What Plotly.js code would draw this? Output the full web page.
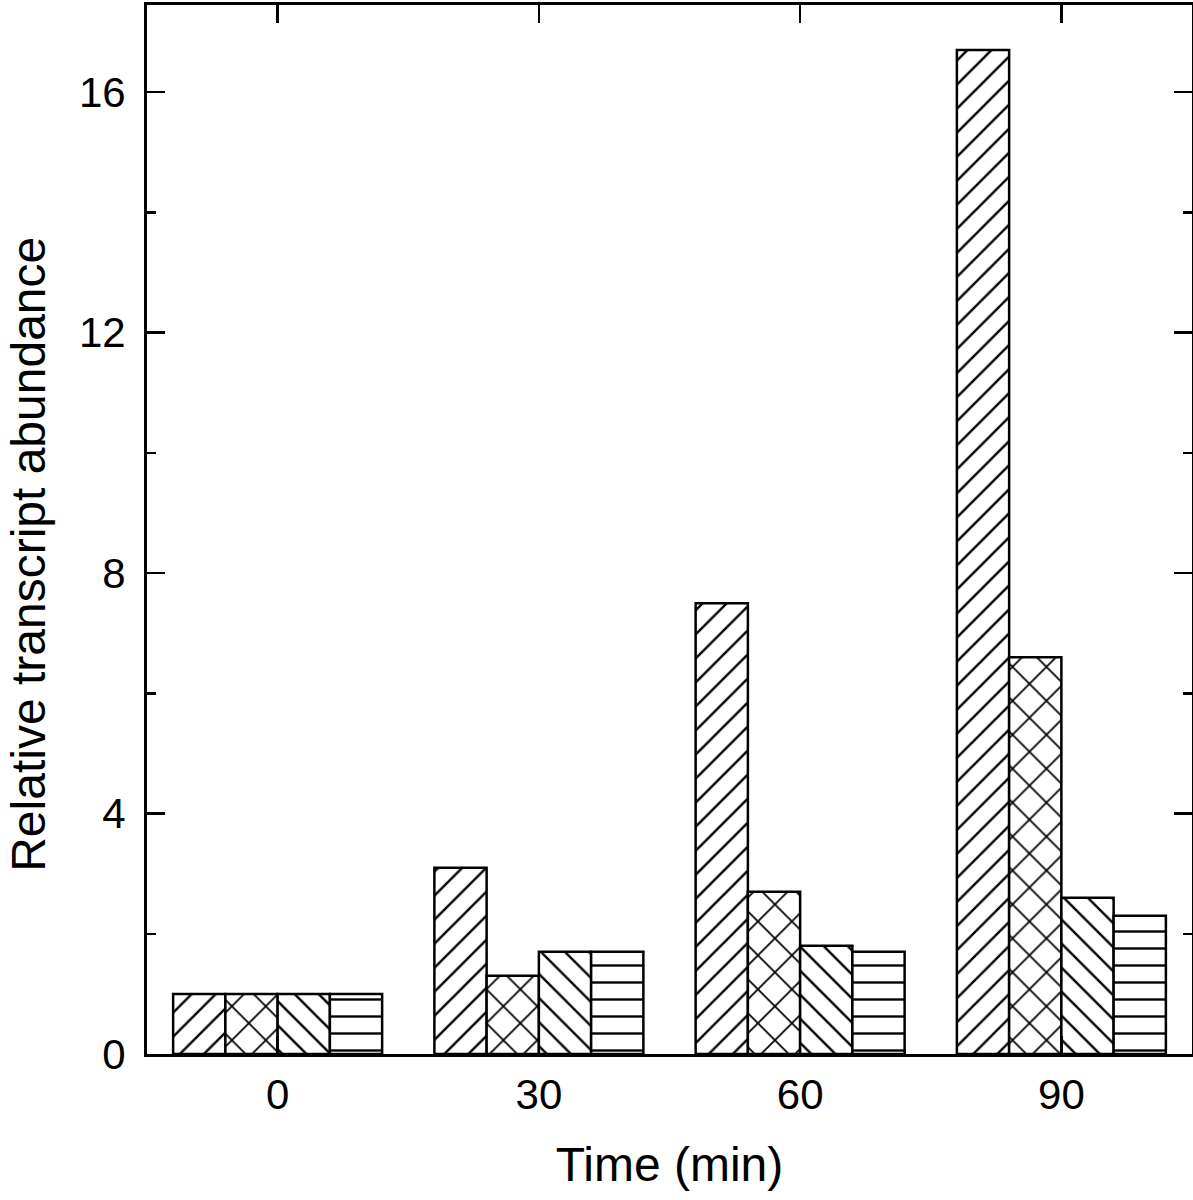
<!DOCTYPE html>
<html>
<head>
<meta charset="utf-8">
<script src="https://cdn.plot.ly/plotly-3.0.1.min.js"></script>
<style>html,body{margin:0;padding:0;background:#fff;}#chart{width:1193px;height:1200px;}</style>
</head>
<body>
<div id="chart"></div>
<script>
// Time points (min)
const timePoints = ["0", "30", "60", "90"];
// Relative transcript abundance for the four genes / series
const series1 = [1.0, 3.1, 7.5, 16.7];
const series2 = [1.0, 1.3, 2.7, 6.6];
const series3 = [1.0, 1.7, 1.8, 2.6];
const series4 = [1.0, 1.7, 1.7, 2.3];
const seriesNames = ["Series 1", "Series 2", "Series 3", "Series 4"];
const patternShapes = ["/", "x", "\\", "-"];
const patternSizes = [17, 24, 17, 17];
const yTickValues = [0, 4, 8, 12, 16];

const allSeries = [series1, series2, series3, series4];
const traces = allSeries.map((vals, i) => ({
  type: "bar",
  name: seriesNames[i],
  x: timePoints,
  y: vals,
  marker: {
    color: "#ffffff",
    line: {color: "#000000", width: 2.5},
    pattern: {shape: patternShapes[i], size: patternSizes[i], solidity: 0.14,
              fgcolor: "#000000", fgopacity: 1, bgcolor: "#ffffff", fillmode: "overlay"}
  },
  hoverinfo: "x+y"
}));

const fontFam = "Liberation Sans, Arial, sans-serif";
const layout = {
  width: 1193,
  height: 1200,
  margin: {l: 147, r: 1, t: 5, b: 146},
  paper_bgcolor: "#ffffff",
  plot_bgcolor: "#ffffff",
  showlegend: false,
  barmode: "group",
  bargap: 0.2,
  bargroupgap: 0,
  font: {family: fontFam, color: "#000000", size: 42},
  xaxis: {
    type: "category",
    categoryorder: "array",
    categoryarray: timePoints,
    range: [-0.5, 3.5],
    showline: true, linecolor: "#000000", linewidth: 3,
    mirror: "ticks",
    ticks: "inside", ticklen: 18, tickwidth: 2.5, tickcolor: "#000000",
    tickfont: {family: fontFam, size: 42, color: "#000000"},
    ticklabelstandoff: 2,
    showgrid: false, zeroline: false,
    title: {text: "Time (min)", font: {family: fontFam, size: 48, color: "#000000"}, standoff: 30}
  },
  yaxis: {
    range: [0, 17.45],
    tickvals: yTickValues,
    ticktext: yTickValues.map(String),
    showline: true, linecolor: "#000000", linewidth: 3,
    mirror: "ticks",
    ticks: "inside", ticklen: 18, tickwidth: 2.5, tickcolor: "#000000",
    minor: {dtick: 2, ticks: "inside", ticklen: 9, tickwidth: 2.5, tickcolor: "#000000", showgrid: false},
    tickfont: {family: fontFam, size: 42, color: "#000000"},
    ticklabelstandoff: 10,
    showgrid: false, zeroline: false
  },
  annotations: [{
    text: "Relative transcript abundance",
    xref: "paper", yref: "paper",
    x: -0.1128, y: 0.476,
    xanchor: "center", yanchor: "middle",
    textangle: -90,
    showarrow: false,
    font: {family: fontFam, size: 48, color: "#000000"}
  }]
};

Plotly.newPlot("chart", traces, layout, {staticPlot: true, displayModeBar: false});
</script>
</body>
</html>
